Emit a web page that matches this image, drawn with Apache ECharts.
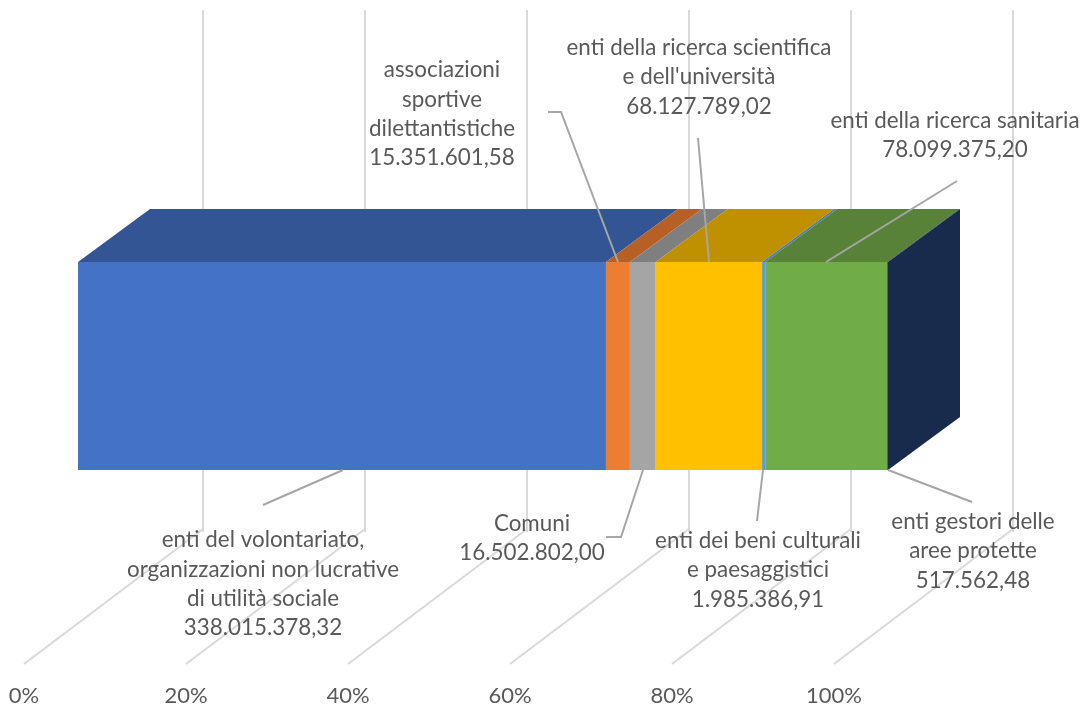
<!DOCTYPE html>
<html>
<head>
<meta charset="utf-8">
<style>
html, body { margin: 0; padding: 0; background: #fff; }
#main { width: 1085px; height: 707px; }
</style>
<script src="https://cdn.jsdelivr.net/npm/echarts@6/dist/echarts.min.js"></script>
</head>
<body>
<div id="main"></div>
<script>
var categories = ['Totale'];
var seriesNames = [
	'enti del volontariato, organizzazioni non lucrative di utilità sociale',
	'associazioni sportive dilettantistiche',
	'Comuni',
	'enti della ricerca scientifica e dell\'università',
	'enti dei beni culturali e paesaggistici',
	'enti della ricerca sanitaria',
	'enti gestori delle aree protette'
];
var seriesValues = [338015378.32, 15351601.58, 16502802.00, 68127789.02, 1985386.91, 78099375.20, 517562.48];
var frontColors = ['#4472C4', '#ED7D31', '#A5A5A5', '#FFC000', '#5B9BD5', '#70AD47', '#264478'];
var topColors = ['#335593', '#B66025', '#7F7F7F', '#BF9000', '#4A7EB0', '#588237', '#1D3359'];
var sideColor = '#182B4C';
var axisTicks = [0, 20, 40, 60, 80, 100];

var labelTexts = [
	'enti del volontariato,\norganizzazioni non lucrative\ndi utilità sociale\n338.015.378,32',
	'associazioni\nsportive\ndilettantistiche\n15.351.601,58',
	'Comuni\n16.502.802,00',
	'enti della ricerca scientifica\ne dell\'università\n68.127.789,02',
	'enti dei beni culturali\ne paesaggistici\n1.985.386,91',
	'enti della ricerca sanitaria\n78.099.375,20',
	'enti gestori delle\naree protette\n517.562,48'
];
// centre of each label block on the page
var labelPlaces = [[263, 584], [442, 114], [532, 538], [699, 77], [758, 570], [955, 135], [973, 551]];
// leader lines, page pixels
var leaderLines = [
	[[343, 470], [263, 505]],
	[[548, 112], [561, 112], [618, 262]],
	[[643, 470], [621, 537], [606, 537]],
	[[698, 138], [709, 262]],
	[[763, 470], [757, 521]],
	[[957, 181], [826, 262]],
	[[888, 470], [972, 502]]
];

var depthX = 72, depthY = 53;
var floorX = 179, floorY = 135;

var total = 0;
seriesValues.forEach(function(v) { total += v; });
var percents = seriesValues.map(function(v) { return v / total * 100; });

var stackData = [];
var sum = 0;
percents.forEach(function(p, i) {
	stackData.push([sum, sum + p, i]);
	sum += p;
});

var barSeries = percents.map(function(p, i) {
	return {
		name : seriesNames[i],
		type : 'bar',
		xAxisIndex : 0,
		yAxisIndex : 0,
		stack : 'tot',
		barWidth : '100%',
		silent : true,
		z : 3,
		itemStyle : { color : frontColors[i] },
		data : [p]
	};
});

// the upper face and the right face of the box
var topFaces = {
	type : 'custom',
	xAxisIndex : 0,
	yAxisIndex : 0,
	silent : true,
	z : 4,
	data : stackData,
	renderItem : function(params, api) {
		var a = api.coord([api.value(0), 0]);
		var b = api.coord([api.value(1), 0]);
		var h = api.size([0, 1])[1];
		var top = a[1] - h / 2;
		var idx = api.value(2);
		var children = [{
			type : 'polygon',
			shape : { points : [[a[0], top], [b[0], top], [b[0] + depthX, top - depthY], [a[0] + depthX, top - depthY]] },
			style : { fill : topColors[idx] }
		}];
		if (idx == percents.length - 1) {
			children.push({
				type : 'polygon',
				shape : { points : [[b[0], top], [b[0] + depthX, top - depthY], [b[0] + depthX, top + h - depthY], [b[0], top + h]] },
				style : { fill : sideColor }
			});
		}
		return { type : 'group', children : children };
	}
};

// diagonal gridlines on the floor
var floorLines = {
	type : 'custom',
	xAxisIndex : 1,
	yAxisIndex : 1,
	silent : true,
	z : 1,
	data : axisTicks.map(function(t) { return [t, 0]; }),
	renderItem : function(params, api) {
		var p = api.coord([api.value(0), 0]);
		return {
			type : 'line',
			shape : { x1 : p[0], y1 : p[1], x2 : p[0] + floorX, y2 : p[1] - floorY },
			style : { stroke : '#D9D9D9', lineWidth : 2 }
		};
	}
};

var graphics = [];
leaderLines.forEach(function(pts) {
	graphics.push({
		type : 'polyline',
		z : 20,
		shape : { points : pts },
		style : { stroke : '#A6A6A6', lineWidth : 2, fill : null }
	});
});
labelTexts.forEach(function(t, i) {
	graphics.push({
		type : 'text',
		z : 21,
		x : labelPlaces[i][0],
		y : labelPlaces[i][1],
		style : {
			text : t,
			fill : '#595959',
			font : '22.4px Lato',
			lineHeight : 29.3,
			align : 'center',
			verticalAlign : 'middle'
		}
	});
});

var myChart = echarts.init(document.getElementById('main'), null, { renderer : 'canvas' });
var hiddenValue = { show : false };
myChart.setOption({
	animation : false,
	backgroundColor : '#fff',
	grid : [
		{ left : 78, width : 810, top : 262, height : 208 },
		{ left : 24, width : 810, top : 532, height : 135 },
		{ left : 203, width : 810, top : 10, height : 522 }
	],
	xAxis : [
		{ gridIndex : 0, type : 'value', min : 0, max : 100, show : false },
		{
			gridIndex : 1,
			type : 'value',
			min : 0,
			max : 100,
			interval : 20,
			axisLine : hiddenValue,
			axisTick : hiddenValue,
			splitLine : hiddenValue,
			axisLabel : {
				margin : 21,
				color : '#595959',
				fontFamily : 'Lato',
				fontSize : 22,
				showMinLabel : true,
				showMaxLabel : true,
				formatter : '{value}%'
			}
		},
		{
			gridIndex : 2,
			type : 'value',
			min : 0,
			max : 100,
			interval : 20,
			axisLine : hiddenValue,
			axisTick : hiddenValue,
			axisLabel : hiddenValue,
			splitLine : { show : true, lineStyle : { color : '#D9D9D9', width : 2 } }
		}
	],
	yAxis : [
		{ gridIndex : 0, type : 'category', data : categories, show : false },
		{ gridIndex : 1, type : 'value', min : 0, max : 1, show : false },
		{ gridIndex : 2, type : 'value', min : 0, max : 1, show : false }
	],
	series : barSeries.concat([topFaces, floorLines]),
	graphic : graphics
});
</script>
</body>
</html>
